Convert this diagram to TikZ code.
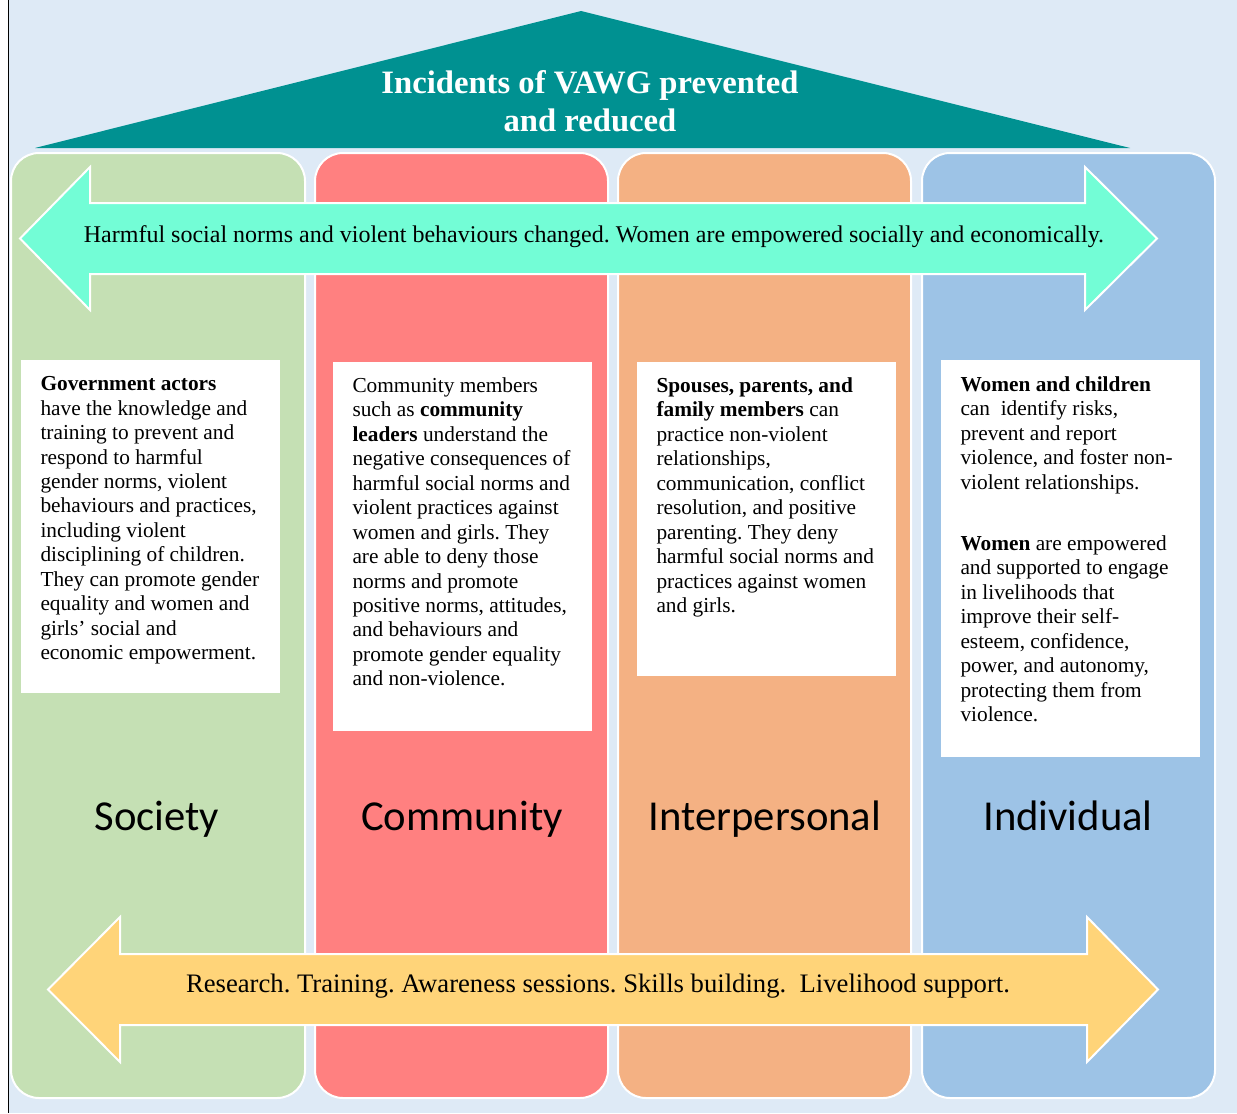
\documentclass[tikz,border=0pt]{standalone}
\usepackage{fontspec}
\setmainfont{Liberation Serif}
\newfontfamily\levelfont{Carlito}
\frenchspacing

\definecolor{pagebg}{RGB}{222,234,246}
\definecolor{roofteal}{RGB}{0,145,145}
\definecolor{societygreen}{RGB}{197,224,180}
\definecolor{communityred}{RGB}{255,128,128}
\definecolor{interorange}{RGB}{244,177,131}
\definecolor{indivblue}{RGB}{157,195,230}
\definecolor{normsaqua}{RGB}{115,253,214}
\definecolor{supportgold}{RGB}{255,212,121}

\tikzset{every picture/.style={line width=0.75pt}}
\tikzset{
  levelcol/.style={draw=white, line width=1.5pt, rounded corners=21pt},
  bigarrow/.style={draw=white, line width=1.5pt},
  infobox/.style={fill=white},
  bodytext/.style={anchor=north west, inner sep=0pt, align=left, font=\fontsize{16}{18.35}\selectfont},
  arrowtext/.style={anchor=base, inner sep=0pt},
  leveltext/.style={anchor=base, inner sep=0pt, font=\levelfont\fontsize{32}{38}\selectfont},
}

\begin{document}
\begin{tikzpicture}[x=0.75pt,y=0.75pt,yscale=-1,xscale=1]
\useasboundingbox (0,0) rectangle (1237,1113);

%Shape: Rectangle [page]
\fill [color=pagebg] (9,0) rectangle (1237,1113);
%Straight Lines [left rule]
\draw [line width=1.2pt] (8.5,0) -- (8.5,1113);

%Shape: Triangle [roof]
\fill [color=roofteal] (581,11) -- (1130,148) -- (35,148) -- cycle;

%Shape: Rounded Rect [society]
\draw [levelcol, fill=societygreen] (11,153) rectangle (305,1098);
%Shape: Rounded Rect [community]
\draw [levelcol, fill=communityred] (315,153) rectangle (608,1098);
%Shape: Rounded Rect [interpersonal]
\draw [levelcol, fill=interorange] (618,153) rectangle (911,1098);
%Shape: Rounded Rect [individual]
\draw [levelcol, fill=indivblue] (922,153) rectangle (1215,1098);

%Shape: Double Arrow [norms]
\draw [bigarrow, fill=normsaqua] (20,238.5) -- (90,167) -- (90,203) -- (1085,203) -- (1085,167) -- (1157,238.5) -- (1085,310) -- (1085,274) -- (90,274) -- (90,310) -- cycle ;
%Shape: Double Arrow [support]
\draw [bigarrow, fill=supportgold] (48,989.5) -- (120,917) -- (120,954) -- (1087,954) -- (1087,917) -- (1158,989.5) -- (1087,1062) -- (1087,1025) -- (120,1025) -- (120,1062) -- cycle ;

%Shape: Rectangle [boxes]
\fill [infobox] (21,360) rectangle (280,693);
\fill [infobox] (333,362) rectangle (592,731);
\fill [infobox] (637,362) rectangle (896,676);
\fill [infobox] (941,360) rectangle (1200,757);

% Text Node
\node [anchor=north, inner sep=0pt, align=center, text=white, font=\bfseries\fontsize{24.5}{28.3}\selectfont] (roof) at (590,70) {Incidents of VAWG prevented\\and reduced};
% Text Node
\node [arrowtext, font=\fontsize{18}{20.7}\selectfont] (norms) at (594,242) {Harmful social norms and violent behaviours changed. Women are empowered socially and economically.};
% Text Node
\node [arrowtext, font=\fontsize{20}{23}\selectfont] (support) at (598,992) {Research. Training. Awareness sessions. Skills building.\ \ Livelihood support.};

% Text Node
\node [bodytext] (govtext) at (40,376) {\textbf{Government actors}\\have the knowledge and\\training to prevent and\\respond to harmful\\gender norms, violent\\behaviours and practices,\\including violent\\disciplining of children.\\They can promote gender\\equality and women and\\girls’ social and\\economic empowerment.};
% Text Node
\node [bodytext] (commtext) at (352,377) {Community members\\such as \textbf{community}\\\textbf{leaders} understand the\\negative consequences of\\harmful social norms and\\violent practices against\\women and girls. They\\are able to deny those\\norms and promote\\positive norms, attitudes,\\and behaviours and\\promote gender equality\\and non-violence.};
% Text Node
\node [bodytext] (famtext) at (656,377) {\textbf{Spouses, parents, and}\\\textbf{family members} can\\practice non-violent\\relationships,\\communication, conflict\\resolution, and positive\\parenting. They deny\\harmful social norms and\\practices against women\\and girls.};
% Text Node
\node [bodytext] (womtext) at (960,376) {\textbf{Women and children}\\can\ \ identify risks,\\prevent and report\\violence, and foster non-\\violent relationships.\\[27.5pt]\textbf{Women} are empowered\\and supported to engage\\in livelihoods that\\improve their self-\\esteem, confidence,\\power, and autonomy,\\protecting them from\\violence.};

% Text Node
\node [leveltext] (society) at (157,830) {Society};
% Text Node
\node [leveltext] (community) at (462,830) {Community};
% Text Node
\node [leveltext] (interpersonal) at (765,830) {Interpersonal};
% Text Node
\node [leveltext] (individual) at (1068,830) {Individual};

\end{tikzpicture}
\end{document}
